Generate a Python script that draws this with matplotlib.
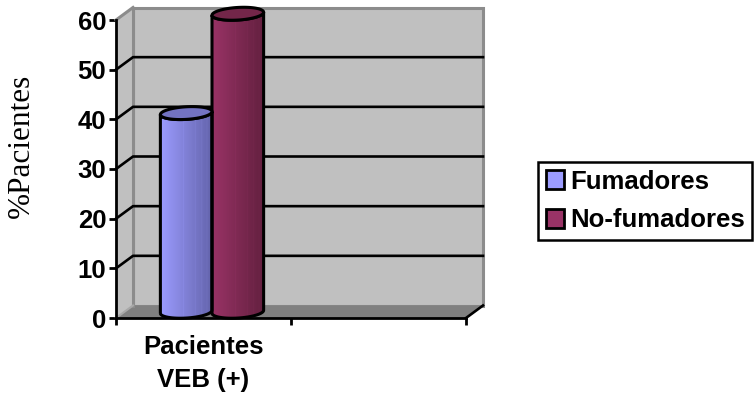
import numpy as np
import matplotlib
matplotlib.use('Agg')
import matplotlib.pyplot as plt
from matplotlib.patches import PathPatch, Polygon, Patch
from matplotlib.path import Path
from matplotlib.colors import LinearSegmentedColormap

plt.rcParams['font.family'] = ['Liberation Sans', 'DejaVu Sans']

categories = ['Pacientes\nVEB (+)', '']
series_names = ['Fumadores', 'No-fumadores']
series_values = [[40], [60]]
y_ticks = [0, 10, 20, 30, 40, 50, 60]

LIGHT = ['#9c9cff', '#993366']
DARK = ['#6464ac', '#63203f']
TOPS = ['#7373c2', '#732649']
WALL = '#c0c0c0'
FLOOR = '#808080'
EDGE = '#8c8c8c'

W, H = 755, 396
X0, X1 = 116, 466      # front axis, pixels
Y0, Y1 = 318, 20
PX_Y = 60 / (Y0 - Y1)  # value units per pixel
DX = 17 / (X1 - X0) * len(categories)   # 3-D depth in data units
DY = 12.5 * PX_Y
BAR_W = 0.295
ELL_B = 6.3 * PX_Y     # half height of the end ellipses
ELL_TILT = 1.5 * PX_Y  # rise of the right end over the left end


def draw_box(ax):
    xr, yt = len(categories), y_ticks[-1]
    ax.add_patch(Polygon([(DX, DY), (xr + DX, DY), (xr + DX, yt + DY), (DX, yt + DY)],
                         fc=WALL, ec=EDGE, lw=2.2, clip_on=False, zorder=1))
    ax.add_patch(Polygon([(0, 0), (DX, DY), (DX, yt + DY), (0, yt)],
                         fc=WALL, ec='none', clip_on=False, zorder=1))
    ax.add_patch(Polygon([(0, 0), (xr, 0), (xr + DX, DY), (DX, DY)],
                         fc=FLOOR, ec='none', clip_on=False, zorder=1.5))
    ax.plot([DX, DX], [DY, yt + DY], color=EDGE, lw=2.2, clip_on=False, zorder=1.6)
    ax.plot([0, DX], [yt, yt + DY], color=EDGE, lw=2.2, clip_on=False, zorder=1.6)
    ax.plot([0, DX], [0, DY], color='#a8a8a8', lw=1.5, clip_on=False, zorder=1.6)
    ax.plot([xr, xr + DX], [0, DY], color='black', lw=1.9, clip_on=False, zorder=1.6)
    for v in y_ticks[1:-1]:
        ax.plot([0, DX, xr + DX], [v, v + DY, v + DY], color='black', lw=1.9,
                clip_on=False, zorder=1.7)


def end_ellipse(cx, cy, t):
    a = BAR_W / 2
    return cx + a * np.cos(t), cy + ELL_B * np.sin(t) + ELL_TILT * np.cos(t)


def draw_cylinder(ax, fig, xc, value, light, dark, top):
    # cylinder stands in the middle of the floor depth
    cx, base = xc + DX / 2, DY / 2
    a = BAR_W / 2
    t = np.linspace(np.pi, 2 * np.pi, 60)
    xb, yb = end_ellipse(cx, base, t)
    xt, yt = end_ellipse(cx, base + value, t[::-1])
    outline = Path(np.column_stack([np.r_[xb, xt, xb[0]], np.r_[yb, yt, yb[0]]]), closed=False)

    cmap = LinearSegmentedColormap.from_list('shade', [light, dark])
    grad = np.linspace(0, 1, 120)
    # faint vertical streaks on the shaded side
    for s in (0.45, 0.68, 0.8, 0.9):
        grad[int(s * 120)] -= 0.22
    im = ax.imshow(grad[np.newaxis, :], cmap=cmap, vmin=0, vmax=1, aspect='auto',
                   extent=(cx - a, cx + a, base - 2 * ELL_B, base + value + 2 * ELL_B), zorder=3)
    im.set_clip_path(PathPatch(outline, transform=ax.transData))
    im.set_clip_box(fig.bbox)

    ax.add_patch(PathPatch(outline, fc='none', ec='black', lw=2.2,
                           clip_on=False, zorder=3.1))
    tt = np.linspace(0, 2 * np.pi, 120)
    xe, ye = end_ellipse(cx, base + value, tt)
    ax.add_patch(Polygon(np.column_stack([xe, ye]), fc=top, ec='black', lw=2.2,
                         clip_on=False, zorder=3.2))


def main():
    fig = plt.figure(figsize=(W / 100, H / 100), dpi=100)
    ax = fig.add_axes([X0 / W, 1 - Y0 / H, (X1 - X0) / W, (Y0 - Y1) / H])
    ax.patch.set_visible(False)

    draw_box(ax)
    n = len(series_names)
    for i, name in enumerate(series_names):
        xc = 0.5 + (i - (n - 1) / 2) * BAR_W
        draw_cylinder(ax, fig, xc, series_values[i][0], LIGHT[i], DARK[i], TOPS[i])

    ax.set_xlim(0, len(categories))
    ax.set_ylim(0, y_ticks[-1])
    ax.spines[['top', 'right']].set_visible(False)
    ax.spines[['left', 'bottom']].set_linewidth(2)
    ax.spines[['left', 'bottom']].set_zorder(5)

    ax.set_yticks(y_ticks)
    ax.set_xticks(range(len(categories) + 1))
    ax.set_xticklabels([])
    ax.set_xticks([0.5], [categories[0]], minor=True)
    ax.tick_params(axis='both', which='major', width=2, length=5, labelsize=18.5)
    ax.tick_params(axis='x', which='minor', length=0, labelsize=18.5, pad=12.5)
    for lab in ax.get_yticklabels() + ax.get_xticklabels(minor=True):
        lab.set_fontweight('bold')
        lab.set_linespacing(1.45)
    ax.tick_params(axis='y', pad=2)

    fig.text(21 / W, 1 - 146 / H, '%Pacientes', rotation=90, ha='center', va='center',
             fontsize=22.5, family=['Liberation Serif', 'DejaVu Serif'])

    handles = [Patch(fc=LIGHT[i], ec='black', lw=2) for i in range(n)]
    leg = fig.legend(handles, series_names, loc='center left',
                     bbox_to_anchor=(538 / W, 1 - 201 / H), frameon=True, fancybox=False,
                     prop={'size': 18.5, 'weight': 'bold'}, handlelength=0.72, handleheight=0.72,
                     handletextpad=0.22, labelspacing=0.58, borderpad=0.3, borderaxespad=0)
    leg.get_frame().set(edgecolor='black', linewidth=1.8, facecolor='white', alpha=1)

    fig.savefig('out.png', dpi=100)
    plt.close(fig)


if __name__ == '__main__':
    main()
